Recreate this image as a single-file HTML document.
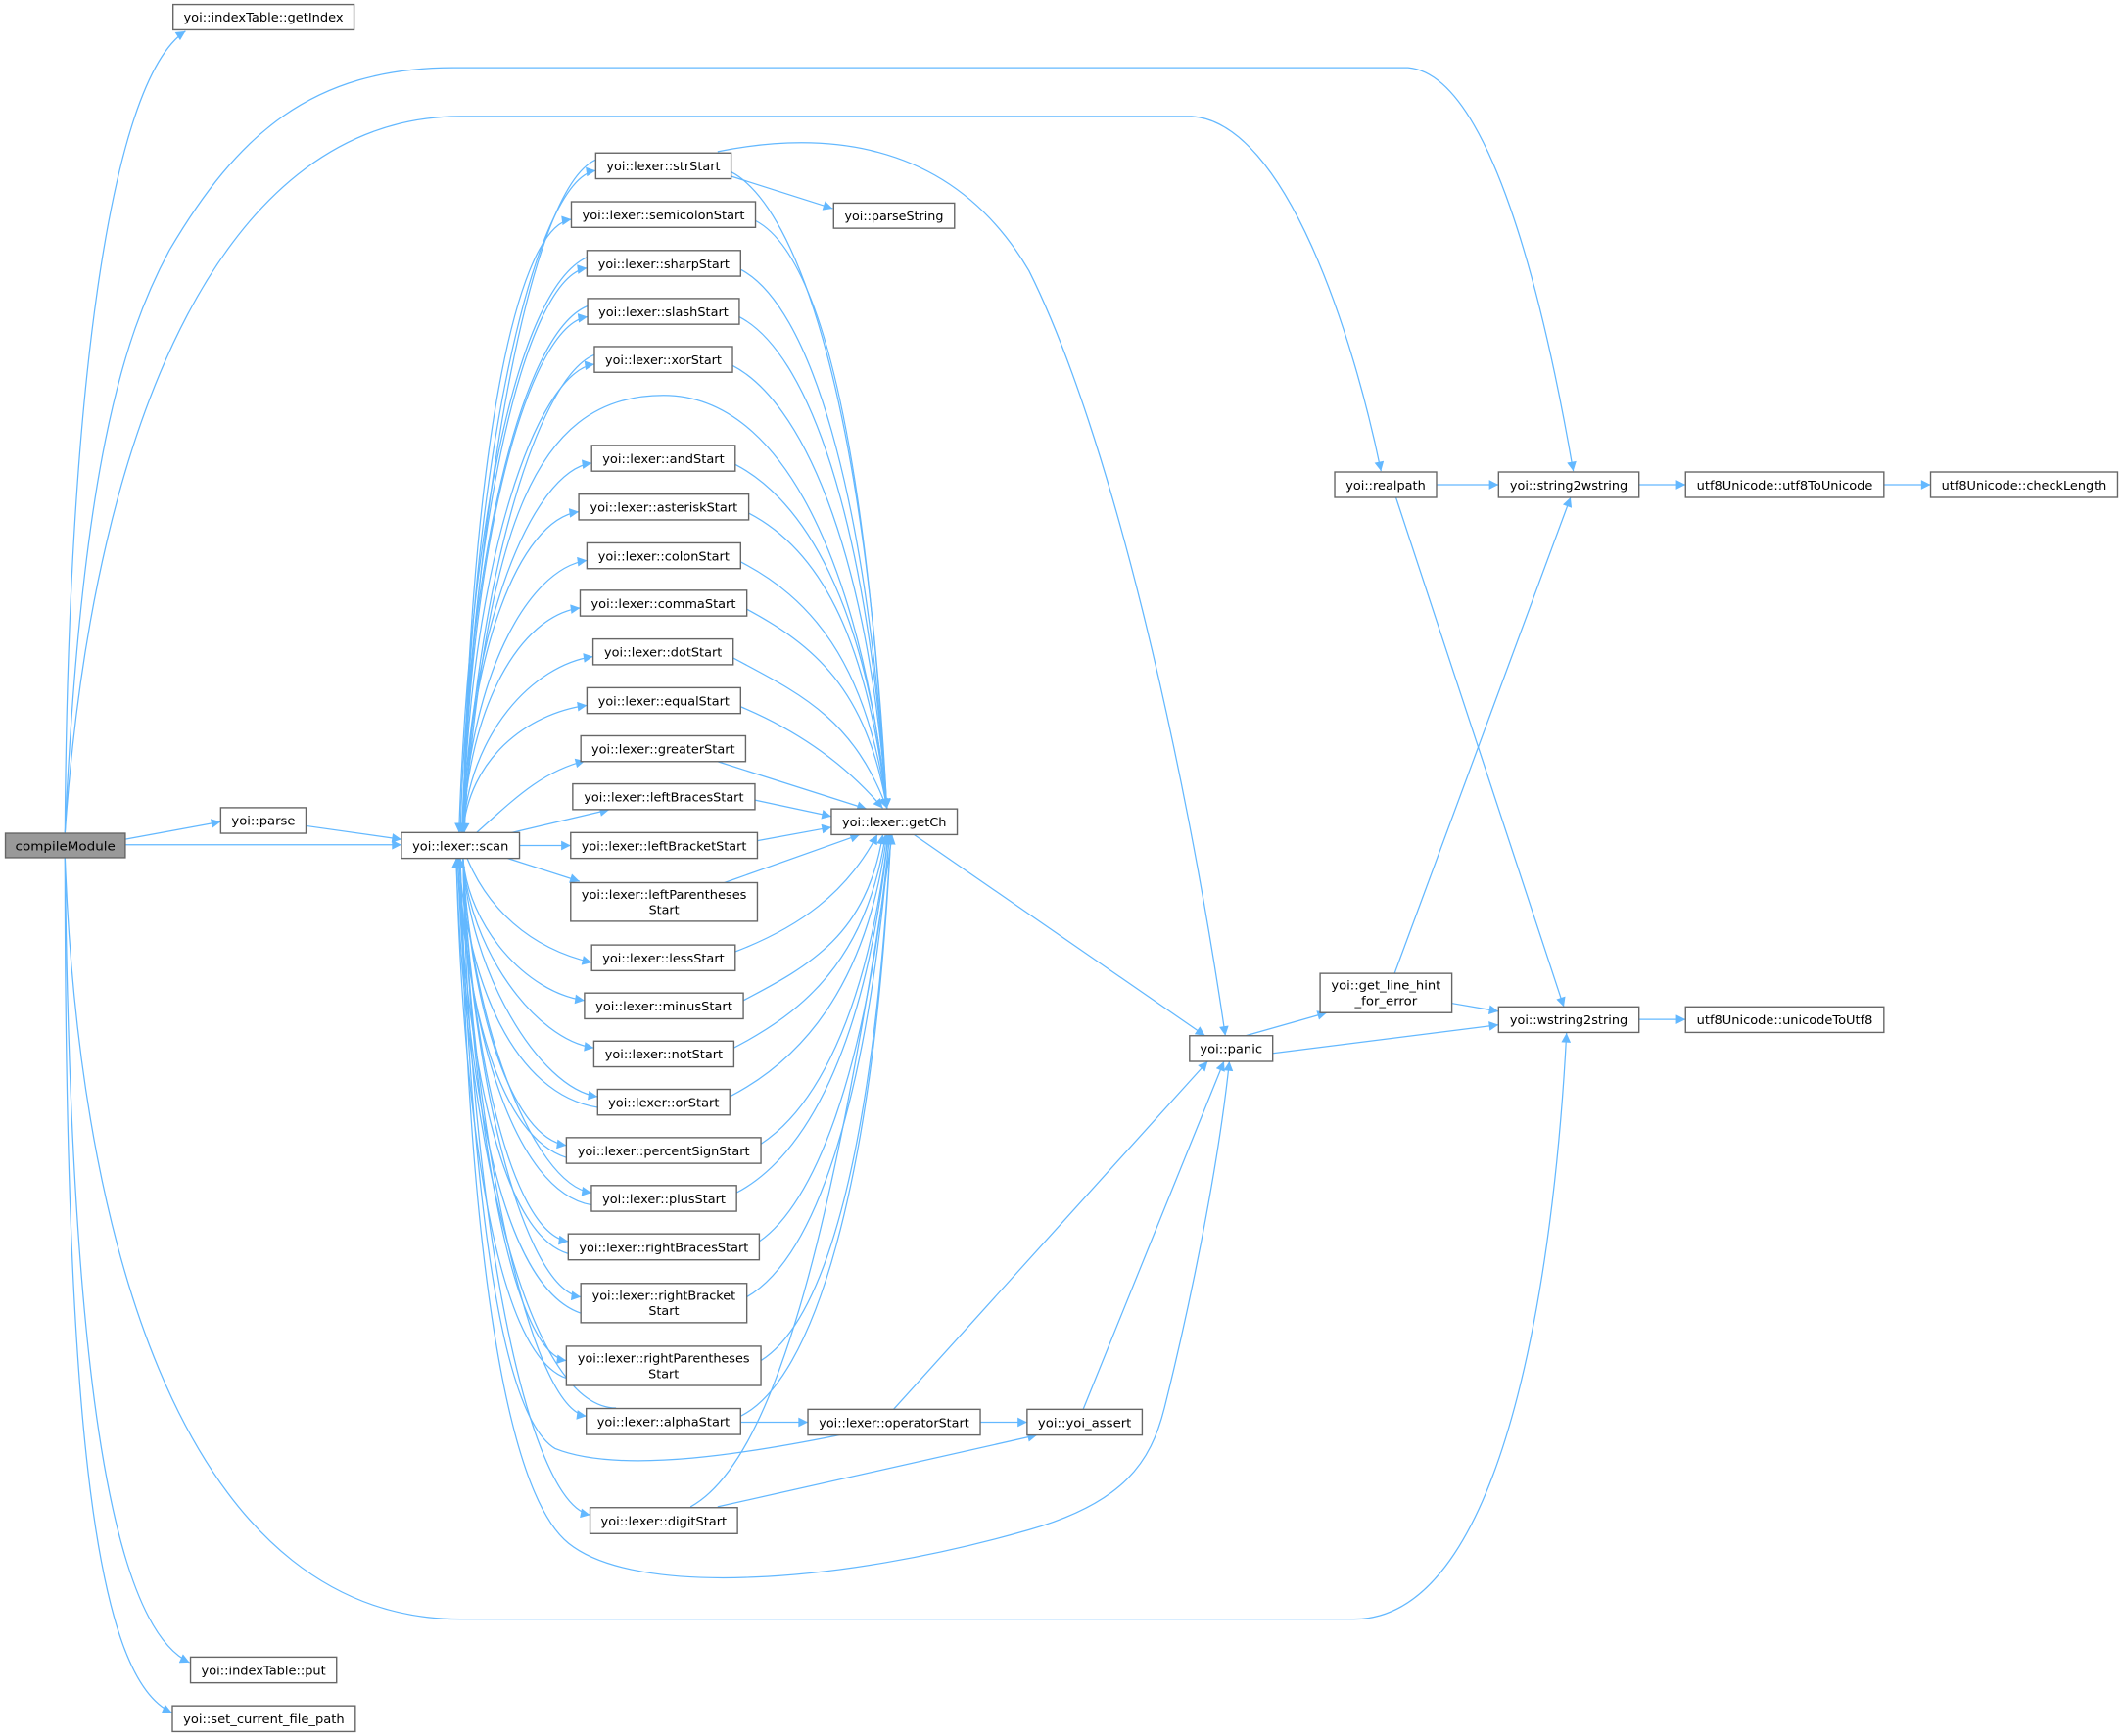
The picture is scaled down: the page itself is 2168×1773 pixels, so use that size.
<!DOCTYPE html>
<html><head><meta charset="utf-8"><style>
html,body{margin:0;padding:0;background:#fff;}
svg{display:block;}
.n{fill:#fff;stroke:#666;stroke-width:1;}
.e{fill:none;stroke:#63b8ff;stroke-width:0.9;marker-end:url(#a);}
text{font-family:"DejaVu Sans","Liberation Sans",sans-serif;font-size:9.2px;fill:#000;}
</style></head><body>
<svg width="2168" height="1773" viewBox="0 0 1568 1282.3" xmlns="http://www.w3.org/2000/svg">
<defs><marker id="a" viewBox="0 0 10 10" refX="10" refY="5" markerUnits="userSpaceOnUse" markerWidth="9" markerHeight="7" orient="auto"><path d="M0,0 L10,5 L0,10 z" fill="#63b8ff"/></marker></defs>

<g>
<path class="e" d="M48,615 C 50,300 80,60 137,23"/>
<path class="e" d="M48,615 C 60,350 90,250 125,185 C 175,100 230,50 335,50 L 1040,50 C 1100,55 1140,220 1162,348"/>
<path class="e" d="M48,615 C 70,300 170,86 340,86 L 880,86 C 950,90 1000,250 1020,348"/>
<path class="e" d="M92,620 L163,607"/>
<path class="e" d="M92,624 L296.5,624"/>
<path class="e" d="M226,610 L296.5,620"/>
<path class="e" d="M48,634 C 60,950 150,1196 340,1196 L 1000,1196 C 1120,1196 1150,900 1157,763"/>
<path class="e" d="M48,634 C 52,1000 80,1200 140,1228"/>
<path class="e" d="M48,634 C 48,1050 70,1240 127,1265"/>

<path class="e" d="M342,615 C 360,400 390,292 490,292 C 590,292 640,450 655,597"/>

<path class="e" d="M342,615 C 346,344 395,132 440,126"/>
<path class="e" d="M342,615 C 346,364 377,168 422,162"/>
<path class="e" d="M342,615 C 346,384 389,204 433.5,198"/>
<path class="e" d="M342,615 C 346,403 390,240 434,234"/>
<path class="e" d="M342,615 C 346,423 395,275 439,269"/>
<path class="e" d="M342,615 C 346,463 393,348 437,342"/>
<path class="e" d="M342,615 C 346,483 383,384 427.5,378"/>
<path class="e" d="M342,615 C 346,503 389,420 433.5,414"/>
<path class="e" d="M342,615 C 346,522 384,455 428.5,449"/>
<path class="e" d="M342,615 C 346,542 394,491 438,485"/>
<path class="e" d="M342,615 C 346,561 389,527 433.5,521"/>
<path class="e" d="M352,615 C 380,590 400,570 432,562"/>
<path class="e" d="M378,615 L450,598"/>
<path class="e" d="M383.7,624.5 L421.5,624.5"/>
<path class="e" d="M375,634 L428,651"/>
<path class="e" d="M345,634 C 360,670 390,700 437,711"/>
<path class="e" d="M342,634 C 346,684 388,733 431.7,739"/>
<path class="e" d="M342,634 C 346,700 395,768 438.6,774"/>
<path class="e" d="M342,634 C 346,716 398,804 441.4,810"/>
<path class="e" d="M342,634 C 346,732 375,840 418.3,846"/>
<path class="e" d="M342,634 C 346,748 393,875 436.8,881"/>
<path class="e" d="M342,634 C 346,764 376,911 419.7,917"/>
<path class="e" d="M342,634 C 346,783 385,952 429,958"/>
<path class="e" d="M342,634 C 346,804 375,999 418.3,1005"/>
<path class="e" d="M342,634 C 346,822 390,1040 433,1046"/>
<path class="e" d="M342,634 C 346,900 390,1110 435.8,1119"/>

<path class="e" d="M434,226 C 384,246 345,422 340,615"/>
<path class="e" d="M433.5,190 C 380,215 346,400 339,615"/>
<path class="e" d="M440,118 C 390,140 350,380 341,615"/>
<path class="e" d="M439,262 C 395,280 350,440 343,615"/>
<path class="e" d="M441.4,818 C 380,808 345,726 339,634"/>
<path class="e" d="M418.3,855 C 370,840 344,745 338,634"/>
<path class="e" d="M436.8,890 C 380,880 345,762 339,634"/>
<path class="e" d="M419.7,926 C 370,912 344,780 338,634"/>
<path class="e" d="M429,970 C 370,950 344,800 338,634"/>
<path class="e" d="M418.3,1018 C 365,1000 342,820 337,634"/>
<path class="e" d="M455,1040 C 390,1040 343,840 337,634"/>

<path class="e" d="M540,127 C 590,153 640,302 655,597"/>
<path class="e" d="M558,163 C 608,189 640,337 655,597"/>
<path class="e" d="M547,199 C 597,225 640,358 655,597"/>
<path class="e" d="M546,234 C 596,260 640,379 655,597"/>
<path class="e" d="M541,270 C 591,296 640,400 655,597"/>
<path class="e" d="M543,343 C 593,369 640,444 655,597"/>
<path class="e" d="M553,379 C 603,405 640,466 655,597"/>
<path class="e" d="M547,415 C 597,441 640,487 655,597"/>
<path class="e" d="M551.6,450 C 600,476 640,508 655,597"/>
<path class="e" d="M541.5,486 C 590,512 630,530 655,597"/>
<path class="e" d="M547,522 C 590,540 625,565 652,597"/>
<path class="e" d="M530,562.5 L640,597.5"/>
<path class="e" d="M557.6,591 L614,603"/>
<path class="e" d="M559.4,621 L614,611"/>
<path class="e" d="M535,652 L635,616.5"/>
<path class="e" d="M543,703 C 590,685 625,660 648,616.5"/>
<path class="e" d="M549,739 C 599,713 640,690 652,616.5"/>
<path class="e" d="M542,774 C 592,748 640,710 654,616.5"/>
<path class="e" d="M539,810 C 589,784 640,732 655,616.5"/>
<path class="e" d="M562,845 C 600,820 640,754 656,616.5"/>
<path class="e" d="M544,881 C 594,855 640,775 656,616.5"/>
<path class="e" d="M560.8,917 C 600,890 640,797 657,616.5"/>
<path class="e" d="M551.6,958 C 600,930 640,822 657,616.5"/>
<path class="e" d="M562,1005 C 610,975 645,850 658,616.5"/>
<path class="e" d="M547,1046 C 600,1020 645,880 658,616.5"/>
<path class="e" d="M510,1113 C 570,1080 615,920 659,616.5"/>

<path class="e" d="M530,127 L615,154"/>
<path class="e" d="M530,112 C 600,98 700,98 760,200 C 820,320 875,560 905,765"/>
<path class="e" d="M675,616.5 L890,765"/>
<path class="e" d="M547,1050.5 L596.7,1050.5"/>
<path class="e" d="M724,1050.5 L758.6,1050.5"/>
<path class="e" d="M660,1041 L892,784"/>
<path class="e" d="M620,1060 C 560,1072 460,1090 410,1070 C 360,1040 345,800 340,634"/>
<path class="e" d="M530,1113 L766,1060"/>
<path class="e" d="M800,1041 L904,784"/>
<path class="e" d="M340,634 C 345,900 370,1100 420,1140 C 470,1180 620,1170 760,1130 C 830,1110 850,1080 860,1040 C 880,960 900,860 908,784"/>
<path class="e" d="M920,765 L980,748"/>
<path class="e" d="M940,778 L1106.8,757"/>
<path class="e" d="M1072,741 L1106.8,747"/>
<path class="e" d="M1030,719 L1160,367.4"/>
<path class="e" d="M1061,358 L1106.8,358"/>
<path class="e" d="M1031,367.4 L1155,743.7"/>
<path class="e" d="M1210.5,358 L1244.9,358"/>
<path class="e" d="M1391.4,358 L1425.9,358"/>
<path class="e" d="M1210.5,753 L1244.9,753"/>
</g>

<g>
<rect x="4" y="615.5" width="88.5" height="18" fill="#999" stroke="#666"/>
<text x="48.25" y="628" text-anchor="middle" textLength="74" lengthAdjust="spacingAndGlyphs">compileModule</text>

<rect class="n" x="127.8" y="3.3" width="133.7" height="18.7"/><text x="194.6" y="16" text-anchor="middle" textLength="118" lengthAdjust="spacingAndGlyphs">yoi::indexTable::getIndex</text>
<rect class="n" x="163" y="596.6" width="63" height="18.9"/><text x="194.5" y="609.5" text-anchor="middle" textLength="47" lengthAdjust="spacingAndGlyphs">yoi::parse</text>
<rect class="n" x="296.5" y="615" width="87.2" height="19"/><text x="340.1" y="628" text-anchor="middle" textLength="71" lengthAdjust="spacingAndGlyphs">yoi::lexer::scan</text>
<rect class="n" x="615.7" y="150" width="89.3" height="18.6"/><text x="660.3" y="162.8" text-anchor="middle" textLength="73" lengthAdjust="spacingAndGlyphs">yoi::parseString</text>
<rect class="n" x="614" y="597.5" width="93" height="19"/><text x="660.5" y="610.5" text-anchor="middle" textLength="77" lengthAdjust="spacingAndGlyphs">yoi::lexer::getCh</text>

<rect class="n" x="440" y="113" width="100" height="19"/><text x="490" y="126" text-anchor="middle" textLength="84" lengthAdjust="spacingAndGlyphs">yoi::lexer::strStart</text>
<rect class="n" x="422" y="149" width="136" height="19"/><text x="490" y="162" text-anchor="middle" textLength="120" lengthAdjust="spacingAndGlyphs">yoi::lexer::semicolonStart</text>
<rect class="n" x="433.5" y="185" width="113.5" height="19"/><text x="490.25" y="198" text-anchor="middle" textLength="97" lengthAdjust="spacingAndGlyphs">yoi::lexer::sharpStart</text>
<rect class="n" x="434" y="220.5" width="112" height="19"/><text x="490" y="233.5" text-anchor="middle" textLength="96" lengthAdjust="spacingAndGlyphs">yoi::lexer::slashStart</text>
<rect class="n" x="439" y="256" width="102" height="19"/><text x="490" y="269" text-anchor="middle" textLength="86" lengthAdjust="spacingAndGlyphs">yoi::lexer::xorStart</text>
<rect class="n" x="437" y="329" width="106" height="19"/><text x="490" y="342" text-anchor="middle" textLength="90" lengthAdjust="spacingAndGlyphs">yoi::lexer::andStart</text>
<rect class="n" x="427.5" y="365" width="125.5" height="19"/><text x="490.25" y="378" text-anchor="middle" textLength="109" lengthAdjust="spacingAndGlyphs">yoi::lexer::asteriskStart</text>
<rect class="n" x="433.5" y="401" width="113.5" height="19"/><text x="490.25" y="414" text-anchor="middle" textLength="97" lengthAdjust="spacingAndGlyphs">yoi::lexer::colonStart</text>
<rect class="n" x="428.5" y="436" width="123.1" height="19"/><text x="490" y="449" text-anchor="middle" textLength="107" lengthAdjust="spacingAndGlyphs">yoi::lexer::commaStart</text>
<rect class="n" x="438" y="472" width="103.5" height="19"/><text x="489.75" y="485" text-anchor="middle" textLength="87" lengthAdjust="spacingAndGlyphs">yoi::lexer::dotStart</text>
<rect class="n" x="433.5" y="508" width="113.5" height="19"/><text x="490.25" y="521" text-anchor="middle" textLength="97" lengthAdjust="spacingAndGlyphs">yoi::lexer::equalStart</text>
<rect class="n" x="429" y="543.5" width="121.7" height="19"/><text x="489.85" y="556.5" text-anchor="middle" textLength="106" lengthAdjust="spacingAndGlyphs">yoi::lexer::greaterStart</text>
<rect class="n" x="423" y="579" width="134.6" height="19"/><text x="490.3" y="592" text-anchor="middle" textLength="118" lengthAdjust="spacingAndGlyphs">yoi::lexer::leftBracesStart</text>
<rect class="n" x="421.5" y="615" width="137.9" height="19"/><text x="490.45" y="628" text-anchor="middle" textLength="122" lengthAdjust="spacingAndGlyphs">yoi::lexer::leftBracketStart</text>
<rect class="n" x="421.5" y="652" width="137.9" height="28.5"/><text x="490.45" y="664" text-anchor="middle" textLength="122" lengthAdjust="spacingAndGlyphs">yoi::lexer::leftParentheses</text><text x="490.45" y="675" text-anchor="middle">Start</text>
<rect class="n" x="437" y="698" width="106" height="19"/><text x="490" y="711" text-anchor="middle" textLength="90" lengthAdjust="spacingAndGlyphs">yoi::lexer::lessStart</text>
<rect class="n" x="431.7" y="733.5" width="117.3" height="19"/><text x="490.35" y="746.5" text-anchor="middle" textLength="101" lengthAdjust="spacingAndGlyphs">yoi::lexer::minusStart</text>
<rect class="n" x="438.6" y="769" width="103.4" height="19"/><text x="490.3" y="782" text-anchor="middle" textLength="87" lengthAdjust="spacingAndGlyphs">yoi::lexer::notStart</text>
<rect class="n" x="441.4" y="804.6" width="97.6" height="19"/><text x="490.2" y="817.6" text-anchor="middle" textLength="82" lengthAdjust="spacingAndGlyphs">yoi::lexer::orStart</text>
<rect class="n" x="418.3" y="840.3" width="143.7" height="19"/><text x="490.15" y="853.3" text-anchor="middle" textLength="127" lengthAdjust="spacingAndGlyphs">yoi::lexer::percentSignStart</text>
<rect class="n" x="436.8" y="875.7" width="107.2" height="19"/><text x="490.4" y="888.7" text-anchor="middle" textLength="91" lengthAdjust="spacingAndGlyphs">yoi::lexer::plusStart</text>
<rect class="n" x="419.7" y="911.4" width="141.1" height="19.2"/><text x="490.25" y="924.5" text-anchor="middle" textLength="125" lengthAdjust="spacingAndGlyphs">yoi::lexer::rightBracesStart</text>
<rect class="n" x="429" y="948" width="122.6" height="29"/><text x="490.3" y="960" text-anchor="middle" textLength="106" lengthAdjust="spacingAndGlyphs">yoi::lexer::rightBracket</text><text x="490.3" y="971.5" text-anchor="middle">Start</text>
<rect class="n" x="418.3" y="994.4" width="143.7" height="29"/><text x="490.15" y="1006.5" text-anchor="middle" textLength="127" lengthAdjust="spacingAndGlyphs">yoi::lexer::rightParentheses</text><text x="490.15" y="1018" text-anchor="middle">Start</text>
<rect class="n" x="433" y="1040.4" width="114" height="19.2"/><text x="490" y="1053.5" text-anchor="middle" textLength="98" lengthAdjust="spacingAndGlyphs">yoi::lexer::alphaStart</text>
<rect class="n" x="435.8" y="1113.6" width="108.9" height="19.2"/><text x="490.25" y="1126.7" text-anchor="middle" textLength="93" lengthAdjust="spacingAndGlyphs">yoi::lexer::digitStart</text>

<rect class="n" x="596.7" y="1041" width="127.3" height="19"/><text x="660.35" y="1054" text-anchor="middle" textLength="111" lengthAdjust="spacingAndGlyphs">yoi::lexer::operatorStart</text>
<rect class="n" x="758.6" y="1041" width="85" height="19"/><text x="801.1" y="1054" text-anchor="middle" textLength="69" lengthAdjust="spacingAndGlyphs">yoi::yoi_assert</text>
<rect class="n" x="878.6" y="765" width="61.4" height="19"/><text x="909.3" y="778" text-anchor="middle" textLength="46" lengthAdjust="spacingAndGlyphs">yoi::panic</text>
<rect class="n" x="975" y="719" width="97.3" height="29"/><text x="1023.65" y="731" text-anchor="middle" textLength="81" lengthAdjust="spacingAndGlyphs">yoi::get_line_hint</text><text x="1023.65" y="742.5" text-anchor="middle" textLength="46" lengthAdjust="spacingAndGlyphs">_for_error</text>
<rect class="n" x="985.8" y="348.6" width="75.2" height="18.8"/><text x="1023.4" y="361.5" text-anchor="middle" textLength="59" lengthAdjust="spacingAndGlyphs">yoi::realpath</text>
<rect class="n" x="1106.8" y="348.6" width="103.7" height="18.8"/><text x="1158.65" y="361.5" text-anchor="middle" textLength="87" lengthAdjust="spacingAndGlyphs">yoi::string2wstring</text>
<rect class="n" x="1244.9" y="348.6" width="146.5" height="18.8"/><text x="1318.15" y="361.5" text-anchor="middle" textLength="130" lengthAdjust="spacingAndGlyphs">utf8Unicode::utf8ToUnicode</text>
<rect class="n" x="1425.9" y="348.6" width="138.1" height="18.8"/><text x="1494.95" y="361.5" text-anchor="middle" textLength="122" lengthAdjust="spacingAndGlyphs">utf8Unicode::checkLength</text>
<rect class="n" x="1106.8" y="743.7" width="103.7" height="18.9"/><text x="1158.65" y="756.6" text-anchor="middle" textLength="87" lengthAdjust="spacingAndGlyphs">yoi::wstring2string</text>
<rect class="n" x="1244.9" y="743.7" width="146.5" height="18.9"/><text x="1318.15" y="756.6" text-anchor="middle" textLength="130" lengthAdjust="spacingAndGlyphs">utf8Unicode::unicodeToUtf8</text>
<rect class="n" x="140.7" y="1224" width="107.9" height="19"/><text x="194.65" y="1237" text-anchor="middle" textLength="92" lengthAdjust="spacingAndGlyphs">yoi::indexTable::put</text>
<rect class="n" x="127.3" y="1260" width="135.1" height="19"/><text x="194.85" y="1273" text-anchor="middle" textLength="119" lengthAdjust="spacingAndGlyphs">yoi::set_current_file_path</text>
</g>
</svg>
</body></html>
